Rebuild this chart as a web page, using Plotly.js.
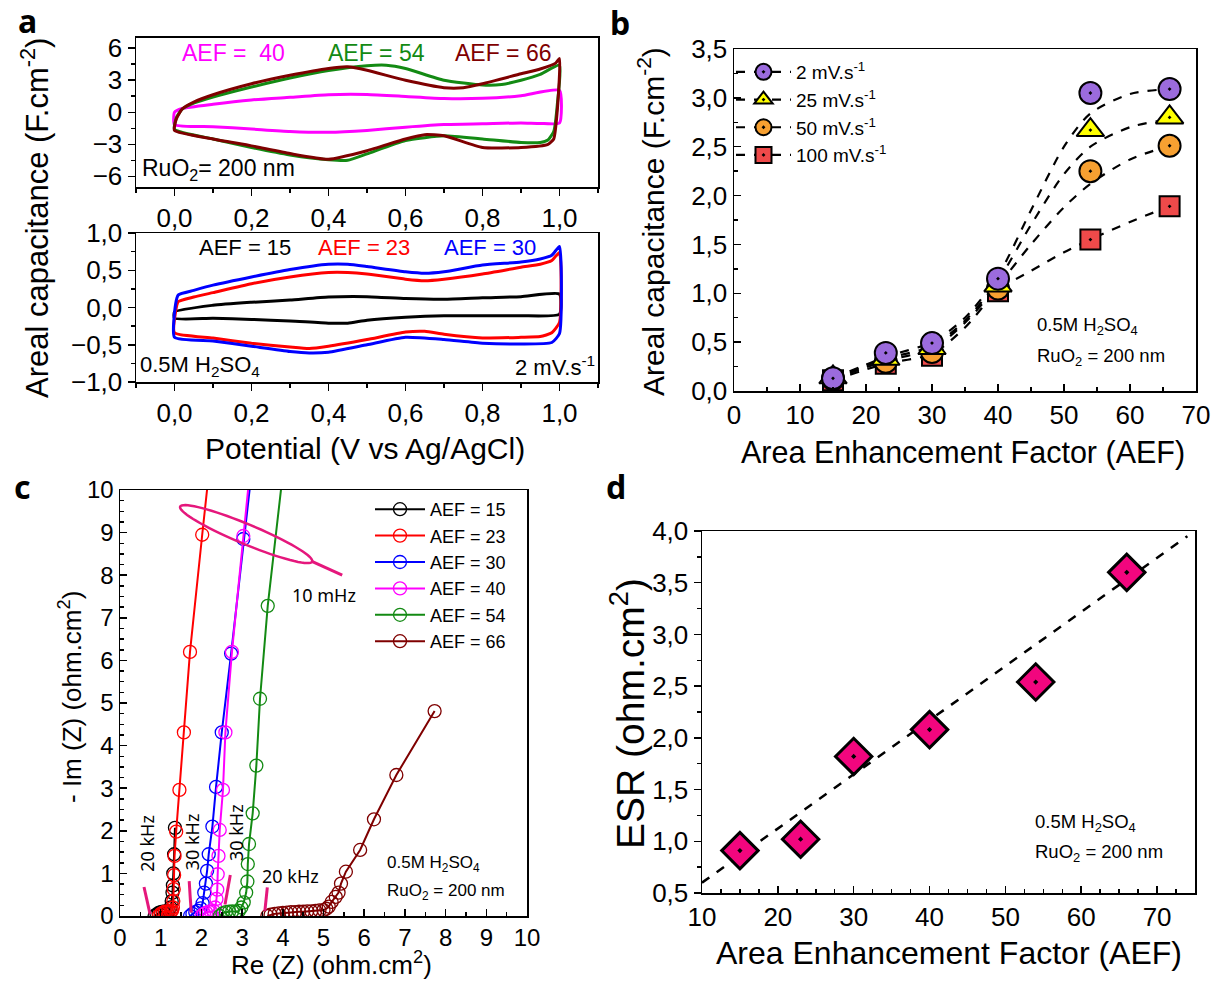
<!DOCTYPE html>
<html><head><meta charset="utf-8">
<script src="https://cdn.plot.ly/plotly-3.0.1.min.js"></script>
<style>body{margin:0;background:#fff}#chart{width:1221px;height:983px}</style>
</head><body><div id="chart"></div>
<script>
// ---------- Panel a (CV curves) ----------
const cvTopLabels = ['AEF =  40', 'AEF = 54', 'AEF = 66'];
const m40x = [0.0, 0.0, 0.02, 0.1, 0.2, 0.3, 0.4, 0.5, 0.6, 0.7, 0.8, 0.9, 1.0, 1.0, 0.95, 0.9, 0.8, 0.7, 0.6, 0.5, 0.4, 0.3, 0.2, 0.1, 0.0];
const m40y = [-1.17, 0.0, 0.35, 0.75, 1.15, 1.4, 1.65, 1.67, 1.48, 1.28, 1.3, 1.55, 2.05, -1.0, -1.05, -1.0, -1.08, -1.15, -1.4, -1.7, -1.88, -1.8, -1.57, -1.35, -1.17];
const g54x = [0.0, 0.005, 0.02, 0.05, 0.1, 0.2, 0.3, 0.4, 0.5, 0.55, 0.6, 0.7, 0.8, 0.85, 0.9, 0.95, 1.0, 0.995, 0.985, 0.97, 0.95, 0.9, 0.8, 0.7, 0.6, 0.5, 0.45, 0.4, 0.3, 0.2, 0.1, 0.0];
const g54y = [-1.6, -0.5, 0.3, 0.85, 1.42, 2.36, 3.2, 3.9, 4.35, 4.4, 4.1, 3.0, 2.55, 2.6, 3.0, 3.55, 4.4, 1.0, -1.8, -2.6, -2.83, -2.83, -2.5, -2.2, -2.65, -3.9, -4.5, -4.45, -4.0, -3.3, -2.5, -1.6];
const b66x = [0.0, 0.005, 0.02, 0.05, 0.1, 0.2, 0.3, 0.4, 0.45, 0.5, 0.6, 0.7, 0.75, 0.8, 0.9, 0.95, 0.99, 1.0, 0.995, 0.985, 0.97, 0.9, 0.8, 0.7, 0.65, 0.6, 0.5, 0.4, 0.3, 0.2, 0.1, 0.0];
const b66y = [-1.7, -0.6, 0.3, 0.95, 1.64, 2.67, 3.46, 4.1, 4.25, 3.93, 2.99, 2.3, 2.3, 2.67, 3.6, 4.05, 4.6, 5.03, 0.5, -2.5, -3.0, -3.3, -3.3, -2.2, -2.1, -2.5, -3.6, -4.4, -3.87, -3.15, -2.5, -1.7];
const cvBotLabels = ['AEF = 15', 'AEF = 23', 'AEF = 30'];
const k15x = [0.0, 0.0, 0.1, 0.2, 0.3, 0.4, 0.5, 0.6, 0.7, 0.8, 0.9, 1.0, 1.0, 0.9, 0.8, 0.7, 0.6, 0.5, 0.45, 0.4, 0.3, 0.2, 0.1, 0.0];
const k15y = [-0.145, -0.06, 0.03, 0.07, 0.1, 0.14, 0.145, 0.12, 0.11, 0.13, 0.145, 0.18, -0.09, -0.11, -0.11, -0.11, -0.13, -0.17, -0.21, -0.21, -0.18, -0.16, -0.145, -0.145];
const r23x = [0.0, 0.003, 0.01, 0.05, 0.1, 0.2, 0.3, 0.4, 0.45, 0.5, 0.6, 0.65, 0.7, 0.8, 0.9, 0.95, 0.98, 1.0, 1.0, 0.98, 0.95, 0.9, 0.8, 0.7, 0.65, 0.6, 0.5, 0.4, 0.35, 0.3, 0.2, 0.1, 0.0];
const r23y = [-0.34, -0.05, 0.08, 0.14, 0.2, 0.32, 0.41, 0.47, 0.47, 0.45, 0.38, 0.36, 0.38, 0.45, 0.54, 0.58, 0.63, 0.74, -0.2, -0.34, -0.39, -0.4, -0.41, -0.36, -0.32, -0.33, -0.43, -0.52, -0.55, -0.53, -0.48, -0.41, -0.34];
const b30x = [0.0, 0.003, 0.01, 0.05, 0.1, 0.2, 0.3, 0.4, 0.45, 0.5, 0.6, 0.65, 0.7, 0.8, 0.9, 0.95, 0.98, 1.0, 1.0, 0.98, 0.9, 0.8, 0.7, 0.6, 0.5, 0.4, 0.35, 0.3, 0.2, 0.1, 0.0];
const b30y = [-0.4, 0.05, 0.17, 0.23, 0.3, 0.41, 0.51, 0.58, 0.58, 0.55, 0.48, 0.46, 0.48, 0.57, 0.61, 0.65, 0.7, 0.82, -0.35, -0.47, -0.49, -0.48, -0.43, -0.4, -0.5, -0.6, -0.61, -0.59, -0.52, -0.45, -0.4];

// ---------- Panel b (areal capacitance vs AEF) ----------
const aef = [15, 23, 30, 40, 54, 66];
const rateLabels = ['2 mV.s<sup>-1</sup>', '25 mV.s<sup>-1</sup>', '50 mV.s<sup>-1</sup>', '100 mV.s<sup>-1</sup>'];
const cap2 = [0.13, 0.39, 0.49, 1.15, 3.05, 3.09];
const cap25 = [0.14, 0.33, 0.44, 1.08, 2.67, 2.80];
const cap50 = [0.12, 0.30, 0.40, 1.05, 2.25, 2.51];
const cap100 = [0.11, 0.28, 0.36, 1.02, 1.55, 1.89];
const fitX = [15, 23, 30, 35, 40, 45, 50, 54, 60, 66];
const fit2 = [0.13, 0.35, 0.50, 0.75, 1.18, 1.85, 2.50, 2.84, 3.04, 3.09];
const fit25 = [0.13, 0.33, 0.46, 0.72, 1.13, 1.70, 2.22, 2.50, 2.70, 2.78];
const fit50 = [0.12, 0.31, 0.43, 0.70, 1.08, 1.50, 1.88, 2.12, 2.37, 2.51];
const fit100 = [0.11, 0.28, 0.38, 0.65, 1.03, 1.23, 1.42, 1.55, 1.73, 1.89];

// ---------- Panel c (Nyquist) ----------
const nyqLabels = ['AEF = 15', 'AEF = 23', 'AEF = 30', 'AEF = 40', 'AEF = 54', 'AEF = 66'];
const re15 = [0.85, 0.9, 0.95, 1.0, 1.05, 1.1, 1.15, 1.2, 1.24, 1.27, 1.29, 1.3, 1.31, 1.33, 1.35];
const im15 = [0.0, 0.04, 0.07, 0.09, 0.1, 0.1, 0.1, 0.12, 0.2, 0.35, 0.55, 0.72, 1.0, 1.45, 2.07];
const re23 = [0.95, 1.0, 1.05, 1.1, 1.15, 1.2, 1.25, 1.28, 1.3, 1.31, 1.32, 1.33, 1.34, 1.38, 1.46, 1.57, 1.72, 2.02, 2.42];
const im23 = [0.0, 0.05, 0.08, 0.1, 0.1, 0.1, 0.11, 0.13, 0.2, 0.35, 0.63, 0.96, 1.41, 1.98, 2.96, 4.31, 6.2, 8.95, 12.5];
const re30 = [1.72, 1.78, 1.85, 1.92, 1.98, 2.03, 2.07, 2.11, 2.14, 2.18, 2.27, 2.36, 2.5, 2.73, 3.03, 3.42];
const im30 = [0.0, 0.05, 0.09, 0.12, 0.18, 0.3, 0.55, 0.76, 1.06, 1.45, 2.1, 3.03, 4.31, 6.16, 8.85, 12.0];
const re40 = [2.0, 2.06, 2.12, 2.18, 2.24, 2.3, 2.34, 2.37, 2.39, 2.4, 2.42, 2.45, 2.53, 2.59, 2.75, 3.03, 3.25];
const im40 = [0.0, 0.05, 0.08, 0.1, 0.1, 0.12, 0.2, 0.4, 0.62, 0.98, 1.41, 2.02, 2.96, 4.31, 6.2, 8.92, 11.0];
const re54 = [2.45, 2.52, 2.6, 2.68, 2.76, 2.84, 2.92, 2.98, 3.04, 3.1, 3.13, 3.14, 3.17, 3.26, 3.35, 3.44, 3.63, 4.05];
const im54 = [0.0, 0.06, 0.09, 0.1, 0.11, 0.1, 0.12, 0.2, 0.32, 0.55, 0.81, 1.22, 1.69, 2.41, 3.53, 5.1, 7.28, 10.8];
const re66 = [3.62, 3.7, 3.8, 3.9, 4.0, 4.1, 4.2, 4.3, 4.4, 4.5, 4.6, 4.7, 4.8, 4.9, 5.0, 5.07, 5.13, 5.2, 5.3, 5.37, 5.43, 5.55, 5.9, 6.24, 6.79, 7.73];
const im66 = [0.0, 0.03, 0.05, 0.06, 0.07, 0.08, 0.09, 0.09, 0.1, 0.1, 0.11, 0.11, 0.12, 0.13, 0.14, 0.17, 0.22, 0.33, 0.45, 0.55, 0.76, 1.04, 1.55, 2.27, 3.31, 4.81];

// ---------- Panel d (ESR) ----------
const esr = [0.91, 1.02, 1.82, 2.08, 2.54, 3.60];
const esrFitX = [10, 74];
const esrFitY = [0.6, 3.95];

// ---------- layout helpers ----------
const W = 1221, H = 983;
const FF = 'Liberation Sans, Arial, sans-serif';
const px = (a, b) => [a / W, b / W];
const py = (t, b) => [1 - b / H, 1 - t / H];
function ax(extra, minorDtick, dir, fs) {
  return Object.assign({
    showline: true, linecolor: '#000', linewidth: 1.5, mirror: true,
    showgrid: false, zeroline: false, ticks: dir, ticklen: 7, tickwidth: 1.5, tickcolor: '#000',
    tickfont: {family: FF, size: fs, color: '#000'}, fixedrange: true,
    minor: {dtick: minorDtick, ticks: dir, ticklen: 4, tickwidth: 1.5, tickcolor: '#000', showgrid: false}
  }, extra);
}

const traces = [];
function cv(x, y, color, xa, ya) {
  traces.push({x: x, y: y, xaxis: xa, yaxis: ya, mode: 'lines', showlegend: false,
    line: {color: color, width: 3, shape: 'spline', smoothing: 0.5}, hoverinfo: 'skip'});
}
cv(m40x, m40y, '#FF00FF', 'x', 'y');
cv(g54x, g54y, '#138A13', 'x', 'y');
cv(b66x, b66y, '#7F0000', 'x', 'y');
cv(k15x, k15y, '#000000', 'x2', 'y2');
cv(r23x, r23y, '#FF0000', 'x2', 'y2');
cv(b30x, b30y, '#0000FF', 'x2', 'y2');

// panel b fits + markers
const capSets = [
  {fit: fit2, cap: cap2, sym: 'circle-dot', col: '#9B6BDD', size: 22},
  {fit: fit25, cap: cap25, sym: 'triangle-up-dot', col: '#FFFF00', size: 24},
  {fit: fit50, cap: cap50, sym: 'circle-dot', col: '#F7A031', size: 22},
  {fit: fit100, cap: cap100, sym: 'square-dot', col: '#EF4A4A', size: 20}
];
capSets.forEach((s) => {
  traces.push({x: fitX, y: s.fit, xaxis: 'x3', yaxis: 'y3', mode: 'lines', showlegend: false,
    line: {color: '#000', width: 2.2, dash: 'dash', shape: 'spline', smoothing: 0.8}, hoverinfo: 'skip'});
});
for (let i = capSets.length - 1; i >= 0; i--) {
  const s = capSets[i];
  traces.push({x: aef, y: s.cap, xaxis: 'x3', yaxis: 'y3', mode: 'markers', showlegend: false,
    marker: {symbol: s.sym, size: s.size, color: s.col, line: {color: '#000', width: 2}}, cliponaxis: false});
}
capSets.forEach((s, i) => {
  traces.push({x: [null], y: [null], xaxis: 'x3', yaxis: 'y3', mode: 'lines+markers', name: rateLabels[i],
    legend: 'legend', line: {color: '#000', width: 2.2, dash: 'dash'},
    marker: {symbol: s.sym, size: s.size, color: s.col, line: {color: '#000', width: 2}}});
});

// panel c
const nyq = [[re15, im15, '#000000'], [re23, im23, '#FF0000'], [re30, im30, '#0000FF'],
             [re40, im40, '#FF00FF'], [re54, im54, '#138A13'], [re66, im66, '#7F0000']];
nyq.forEach((d, i) => {
  traces.push({x: d[0], y: d[1], xaxis: 'x4', yaxis: 'y4', mode: 'lines+markers', name: nyqLabels[i],
    legend: 'legend2', line: {color: d[2], width: 2},
    marker: {symbol: 'circle-open', size: 13, color: d[2], line: {width: 1.3}}});
});

// panel d
traces.push({x: esrFitX, y: esrFitY, xaxis: 'x5', yaxis: 'y5', mode: 'lines', showlegend: false,
  line: {color: '#000', width: 2.5, dash: 'dash'}});
traces.push({x: aef, y: esr, xaxis: 'x5', yaxis: 'y5', mode: 'markers', showlegend: false,
  marker: {symbol: 'diamond-dot', size: 28, color: '#F2067E', line: {color: '#000', width: 3}}, cliponaxis: false});

// ellipse decoration for panel c (pixel geometry -> data)
const SX = 40.7, SY = 42.6;
function ellipsePath(cx, cy, a, b, ang) {
  const th = ang * Math.PI / 180; let p = '';
  for (let i = 0; i <= 72; i++) {
    const t = 2 * Math.PI * i / 72;
    const dx = a * Math.cos(t) * Math.cos(th) - b * Math.sin(t) * Math.sin(th);
    const dy = a * Math.cos(t) * Math.sin(th) + b * Math.sin(t) * Math.cos(th);
    p += (i ? ' L ' : 'M ') + (cx + dx / SX).toFixed(4) + ' ' + (cy - dy / SY).toFixed(4);
  }
  return p + ' Z';
}
const PINK = '#E5177C';
const shapes = [
  {type: 'path', xref: 'x4', yref: 'y4', path: ellipsePath(3.10, 8.965, 71.5, 10, 22.6), line: {color: PINK, width: 2.5}},
  {type: 'line', xref: 'x4', yref: 'y4', x0: 4.70, y0: 8.33, x1: 5.46, y1: 8.0, line: {color: PINK, width: 3}},
  {type: 'line', xref: 'x4', yref: 'y4', x0: 0.59, y0: 0.68, x1: 0.74, y1: 0.04, line: {color: PINK, width: 3}},
  {type: 'line', xref: 'x4', yref: 'y4', x0: 1.70, y0: 0.82, x1: 1.75, y1: 0.08, line: {color: PINK, width: 3}},
  {type: 'line', xref: 'x4', yref: 'y4', x0: 2.71, y0: 0.96, x1: 2.58, y1: 0.27, line: {color: PINK, width: 3}},
  {type: 'line', xref: 'x4', yref: 'y4', x0: 3.62, y0: 0.67, x1: 3.56, y1: 0.12, line: {color: PINK, width: 3}}
];

function pa(text, x, y, size, opts) {
  return Object.assign({text: text, xref: 'paper', yref: 'paper', x: x / W, y: 1 - y / H, showarrow: false,
    xanchor: 'center', yanchor: 'middle', font: {family: FF, size: size, color: '#000'}}, opts || {});
}
const CAL = 'Noto Sans, Open Sans, sans-serif';
const annotations = [
  pa('<b>a</b>', 27, 20, 32, {font: {family: CAL, size: 32, color: '#000'}}),
  pa('<b>b</b>', 620, 22, 32, {font: {family: CAL, size: 32, color: '#000'}}),
  pa('<b>c</b>', 22, 487, 32, {font: {family: CAL, size: 32, color: '#000'}}),
  pa('<b>d</b>', 616, 487, 32, {font: {family: CAL, size: 32, color: '#000'}}),
  // panel a
  pa(cvTopLabels[0], 233, 53, 23, {font: {family: FF, size: 23, color: '#FF00FF'}}),
  pa(cvTopLabels[1], 376, 53, 23, {font: {family: FF, size: 23, color: '#138A13'}}),
  pa(cvTopLabels[2], 504, 53, 23, {font: {family: FF, size: 23, color: '#7F0000'}}),
  pa('RuO<sub>2</sub>= 200 nm', 140, 169, 23, {xanchor: 'left'}),
  pa(cvBotLabels[0], 245, 248, 22, {font: {family: FF, size: 22, color: '#000'}}),
  pa(cvBotLabels[1], 364, 248, 22, {font: {family: FF, size: 22, color: '#FF0000'}}),
  pa(cvBotLabels[2], 490, 248, 22, {font: {family: FF, size: 22, color: '#0000FF'}}),
  pa('0.5M H<sub>2</sub>SO<sub>4</sub>', 138, 366, 22, {xanchor: 'left'}),
  pa('2 mV.s<sup>-1</sup>', 597, 366, 22, {xanchor: 'right'}),
  pa('Potential (V vs Ag/AgCl)', 365, 448, 30),
  pa('Areal capacitance (F.cm<sup>-2</sup>)', 35, 218, 31, {textangle: -90}),
  // panel b
  pa('Areal capacitance (F.cm<sup>-2</sup>)', 651, 222, 30, {textangle: -90}),
  pa('Area Enhancement Factor (AEF)', 963, 452, 30.5),
  pa('0.5M H<sub>2</sub>SO<sub>4</sub>', 1035, 326, 18.5, {xanchor: 'left'}),
  pa('RuO<sub>2</sub> = 200 nm', 1035, 357, 18.5, {xanchor: 'left'}),
  // panel c
  pa('Re (Z) (ohm.cm<sup>2</sup>)', 331, 963, 26),
  pa('- Im (Z) (ohm.cm<sup>2</sup>)', 70, 697, 26, {textangle: -90}),
  pa('0.5M H<sub>2</sub>SO<sub>4</sub>', 385, 864, 17, {xanchor: 'left'}),
  pa('RuO<sub>2</sub> = 200 nm', 385, 892, 17, {xanchor: 'left'}),
  {text: '10 mHz', xref: 'x4', yref: 'y4', x: 5.02, y: 7.54, showarrow: false, font: {family: CAL, size: 18, color: '#000'}},
  {text: '20 kHz', xref: 'x4', yref: 'y4', x: 0.655, y: 1.71, showarrow: false, textangle: -90, font: {family: CAL, size: 18, color: '#000'}},
  {text: '30 kHz', xref: 'x4', yref: 'y4', x: 1.79, y: 1.75, showarrow: false, textangle: -90, font: {family: CAL, size: 18, color: '#000'}},
  {text: '30 kHz', xref: 'x4', yref: 'y4', x: 2.84, y: 1.96, showarrow: false, textangle: -90, font: {family: CAL, size: 18, color: '#000'}},
  {text: '20 kHz', xref: 'x4', yref: 'y4', x: 4.19, y: 0.94, showarrow: false, font: {family: CAL, size: 18, color: '#000'}},
  // panel d
  pa('ESR (ohm.cm<sup>2</sup>)', 627, 714, 39, {textangle: -90}),
  pa('Area Enhancement Factor (AEF)', 949, 953, 32),
  pa('0.5M H<sub>2</sub>SO<sub>4</sub>', 1033, 823, 18.5, {xanchor: 'left'}),
  pa('RuO<sub>2</sub> = 200 nm', 1033, 853, 18.5, {xanchor: 'left'})
];

const layout = {
  width: W, height: H, margin: {l: 0, r: 0, t: 0, b: 0},
  paper_bgcolor: '#fff', plot_bgcolor: 'rgba(0,0,0,0)',
  separators: ',.', showlegend: true, hovermode: false,
  font: {family: FF, color: '#000'},
  xaxis: ax({domain: px(136, 598), range: [-0.1, 1.1], dtick: 0.2, tick0: 0, tickformat: '.1f', anchor: 'y'}, 0.1, 'outside', 26),
  yaxis: ax({domain: py(37.5, 187), range: [-7, 7], dtick: 3, tick0: 0, anchor: 'x'}, 1.5, 'outside', 26),
  xaxis2: ax({domain: px(136, 598), range: [-0.1, 1.1], dtick: 0.2, tick0: 0, tickformat: '.1f', anchor: 'y2'}, 0.1, 'outside', 26),
  yaxis2: ax({domain: py(233, 382), range: [-1, 1], dtick: 0.5, tick0: 0, tickformat: '.1f', anchor: 'x2'}, 0.25, 'outside', 26),
  xaxis3: ax({domain: px(734, 1196), range: [0, 70], dtick: 10, tick0: 0, anchor: 'y3'}, 5, 'inside', 26),
  yaxis3: ax({domain: py(49, 391), range: [0, 3.5], dtick: 0.5, tick0: 0, tickformat: '.1f', anchor: 'x3'}, 0.25, 'inside', 26),
  xaxis4: ax({domain: px(120, 527), range: [0, 10], dtick: 1, tick0: 0, anchor: 'y4'}, 0.5, 'inside', 24),
  yaxis4: ax({domain: py(490, 916), range: [0, 10], dtick: 1, tick0: 0, anchor: 'x4'}, 0.25, 'inside', 24),
  xaxis5: ax({domain: px(702, 1195), range: [10, 75], dtick: 10, tick0: 10, anchor: 'y5'}, 2.5, 'inside', 26),
  yaxis5: ax({domain: py(531, 893), range: [0.5, 4.0], dtick: 0.5, tick0: 0.5, tickformat: '.1f', anchor: 'x5'}, 0.25, 'outside', 26),
  legend: {x: 731 / W, y: 1 - 53 / H, xanchor: 'left', yanchor: 'top', bgcolor: 'rgba(0,0,0,0)',
    font: {family: FF, size: 19, color: '#000'}, tracegroupgap: 0, itemwidth: 55},
  legend2: {x: 370 / W, y: 1 - 491 / H, xanchor: 'left', yanchor: 'top', bgcolor: 'rgba(0,0,0,0)',
    font: {family: FF, size: 18, color: '#000'}, tracegroupgap: 0, itemwidth: 50},
  shapes: shapes,
  annotations: annotations
};

Plotly.newPlot('chart', traces, layout, {displayModeBar: false, staticPlot: true});
</script></body></html>
